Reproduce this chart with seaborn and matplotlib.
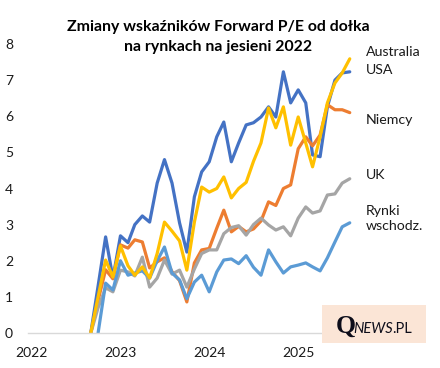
import matplotlib
matplotlib.use('Agg')
import matplotlib.pyplot as plt
import matplotlib.dates as mdates
import matplotlib.transforms as mtrans
from matplotlib.patches import Rectangle
import seaborn as sns
import pandas as pd
import numpy as np

# ---- data (monthly, from the autumn-2022 low) ----
months = pd.date_range('2022-09-01', periods=36, freq='MS') + pd.Timedelta(days=14)

australia = [0, 1.0, 2.02, 1.55, 2.41, 1.86, 1.6, 1.83, 1.52, 2.2, 3.07, 2.82,
             2.55, 1.74, 3.07, 4.04, 3.9, 4.0, 4.32, 3.74, 4.0, 4.17, 4.75, 5.26,
             6.23, 5.68, 6.26, 5.2, 5.98, 5.26, 4.6, 5.43, 6.37, 6.92, 7.2, 7.59]
usa = [0, 1.3, 2.66, 1.52, 2.69, 2.5, 3.0, 3.24, 3.07, 4.15, 4.8, 4.15,
       3.05, 2.24, 3.77, 4.46, 4.74, 5.43, 5.84, 4.74, 5.26, 5.76, 5.82, 5.98,
       6.26, 5.98, 7.23, 6.37, 6.73, 6.37, 4.93, 4.88, 6.26, 7.0, 7.2, 7.23]
niemcy = [0, 0.9, 1.75, 1.5, 2.44, 2.35, 2.58, 2.52, 1.8, 1.97, 2.08, 1.7,
          1.45, 0.86, 1.94, 2.3, 2.34, 2.9, 3.4, 2.8, 2.95, 2.8, 2.88, 3.1,
          3.63, 3.53, 4.0, 4.1, 5.1, 5.43, 5.18, 5.48, 6.32, 6.18, 6.18, 6.1]
uk = [0, 0.7, 1.25, 1.14, 1.74, 1.69, 1.58, 2.1, 1.27, 1.52, 2.02, 1.63,
      1.74, 1.27, 1.77, 2.2, 2.3, 2.3, 2.75, 2.92, 2.97, 2.71, 3.0, 3.18,
      2.99, 2.85, 2.94, 2.69, 3.18, 3.49, 3.32, 3.38, 3.82, 3.85, 4.15, 4.27]
rynki_wschodzace = [np.nan, 0, 1.38, 1.19, 2.0, 1.6, 1.66, 1.72, 1.52, 2.0, 2.38, 1.66,
                    1.47, 0.95, 1.41, 1.6, 1.14, 1.69, 2.02, 2.05, 1.92, 2.14, 1.82, 1.6,
                    2.3, 1.97, 1.66, 1.83, 1.88, 1.94, 1.83, 1.72, 2.08, 2.52, 2.94, 3.05]

series_names = ['USA', 'Niemcy', 'UK', 'Rynki\nwschodz.', 'Australia']
series_values = [usa, niemcy, uk, rynki_wschodzace, australia]
series_colors = ['#4472C4', '#ED7D31', '#A5A5A5', '#5B9BD5', '#FFC000']
label_y = [7.28, 5.9, 4.38, 3.17, 7.78]

year_ticks = pd.to_datetime(['2022-01-01', '2023-01-01', '2024-01-01', '2025-01-01'])
year_labels = ['2022', '2023', '2024', '2025']
y_ticks = [0, 1, 2, 3, 4, 5, 6, 7, 8]

title1 = 'Zmiany wskaźników Forward P/E od dołka'
title2 = 'na rynkach na jesieni 2022'

# ---- style ----
sns.set_theme(style='white')
plt.rcParams['font.family'] = ['Lato', 'DejaVu Sans']

fig = plt.figure(figsize=(4.4, 3.68), dpi=100)
W, H = 440, 368
left_px, right_px, top_px, bottom_px = 28.3, 359, 44, 333
ax = fig.add_axes([left_px / W, (H - bottom_px) / H,
                   (right_px - left_px) / W, (bottom_px - top_px) / H])

for name, vals, col in zip(series_names, series_values, series_colors):
    df = pd.DataFrame({'date': months, 'value': vals})
    sns.lineplot(data=df, x='date', y='value', ax=ax, color=col,
                 linewidth=2.3, legend=False, solid_joinstyle='round')

ax.set_xlim(pd.Timestamp('2022-01-01'), pd.Timestamp('2025-09-22'))
ax.set_ylim(0, 8)
ax.set_xlabel('')
ax.set_ylabel('')
ax.set_xticks(year_ticks)
ax.set_xticklabels(year_labels)
ax.set_yticks(y_ticks)
ax.set_yticklabels([str(v) for v in y_ticks])

for s in ['left', 'top', 'right']:
    ax.spines[s].set_visible(False)
ax.spines['bottom'].set_color('#d9d9d9')
ax.spines['bottom'].set_linewidth(1.0)
ax.tick_params(axis='x', direction='out', length=4, width=1, color='#d9d9d9',
               labelsize=10, labelcolor='#1a1a1a', pad=6)
ax.tick_params(axis='y', length=0, labelsize=10, labelcolor='#1a1a1a', pad=11)
ax.grid(False)

offset = mtrans.ScaledTranslation(3.5 / 100, 0, fig.dpi_scale_trans)
for lab in ax.get_xticklabels():
    lab.set_transform(lab.get_transform() + offset)

# series labels to the right
trans = mtrans.blended_transform_factory(ax.transAxes, ax.transData)
for name, yv in zip(series_names, label_y):
    ax.text(1.021, yv, name, transform=trans, ha='left', va='center',
            fontsize=10.2, color='#1a1a1a', clip_on=False, linespacing=1.25)

# title
fig.text(218 / W, 1 - 27 / H, title1, ha='center', va='center',
         fontsize=11.4, fontweight='bold', color='#000000')
fig.text(218 / W, 1 - 47 / H, title2, ha='center', va='center',
         fontsize=11.4, fontweight='bold', color='#000000')

# watermark
fig.patches.append(Rectangle((322 / W, (H - 343) / H), 104 / W, 38 / H,
                             transform=fig.transFigure, facecolor='#FBE5D6',
                             edgecolor='none', zorder=5))
fig.text(336 / W, (H - 333) / H, 'Q', fontsize=18.5, family='Liberation Serif',
         fontweight='bold', color='#0d0d1a', ha='left', va='baseline', zorder=6)
fig.text(353 / W, (H - 333) / H, 'NEWS', fontsize=10.5, style='italic',
         color='#0d0d1a', ha='left', va='baseline', zorder=6)
fig.text(392 / W, (H - 333) / H, '.PL', fontsize=10.5,
         color='#0d0d1a', ha='left', va='baseline', zorder=6)

fig.savefig('out.png', dpi=100)
